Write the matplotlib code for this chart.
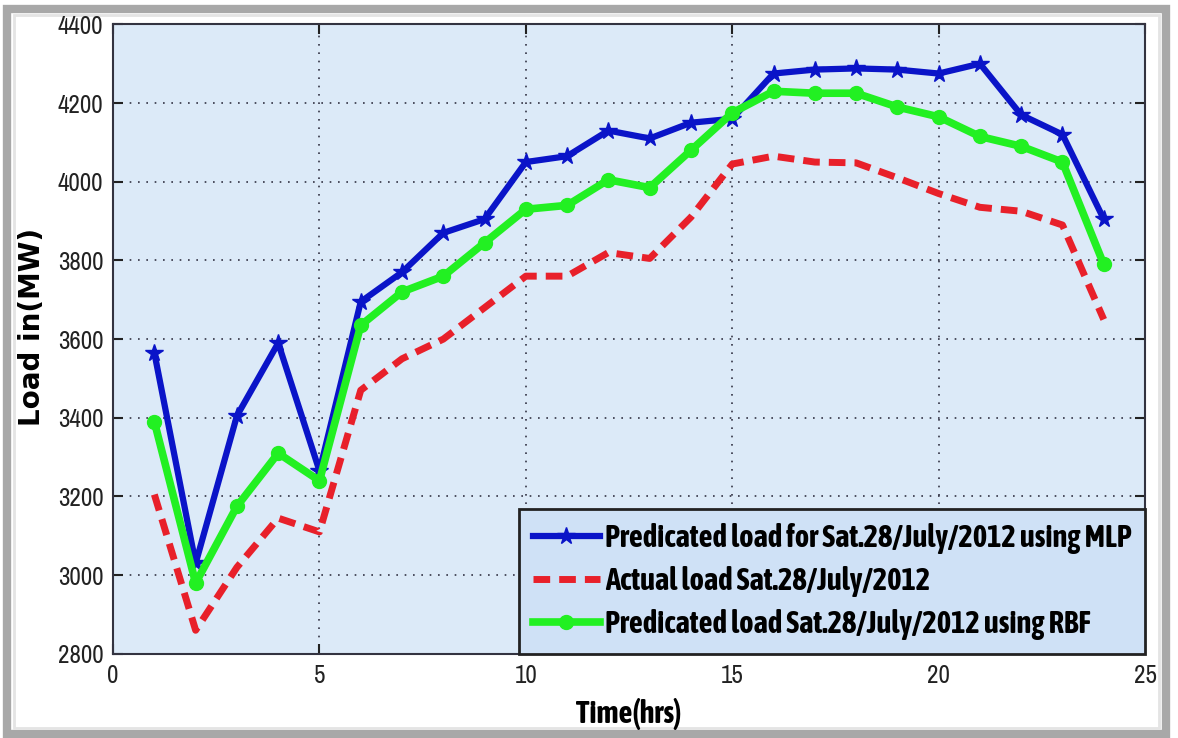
import matplotlib
matplotlib.use("Agg")
import matplotlib.pyplot as plt
from matplotlib.patches import Rectangle
from matplotlib import font_manager

hours = list(range(1, 25))
mlp = [3565, 3030, 3405, 3590, 3265, 3695, 3770, 3870, 3905, 4050, 4065, 4130,
       4110, 4150, 4160, 4275, 4285, 4288, 4285, 4275, 4300, 4170, 4120, 3905]
actual = [3205, 2860, 3020, 3145, 3110, 3470, 3550, 3600, 3680, 3760, 3760, 3820,
          3805, 3910, 4045, 4065, 4050, 4048, 4010, 3970, 3935, 3925, 3890, 3650]
rbf = [3390, 2980, 3175, 3310, 3240, 3635, 3720, 3760, 3845, 3930, 3940, 4005,
       3985, 4080, 4175, 4230, 4225, 4225, 4190, 4165, 4115, 4090, 4050, 3790]

labels = ["Predicated load for Sat.28/July/2012 using MLP",
          "Actual load Sat.28/July/2012",
          "Predicated load Sat.28/July/2012 using RBF"]
xticks = [0, 5, 10, 15, 20, 25]
yticks = [2800, 3000, 3200, 3400, 3600, 3800, 4000, 4200, 4400]


def wnum(w):
    if isinstance(w, (int, float)):
        return w
    return {"bold": 700, "semibold": 600, "demibold": 600, "heavy": 800,
            "black": 900, "extra bold": 800}.get(str(w).lower(), 400)


fonts = font_manager.fontManager.ttflist
cond_all = sorted({f.name for f in fonts if ("Narrow" in f.name or "Condensed" in f.name)})
cond_bold = sorted({f.name for f in fonts if ("Narrow" in f.name or "Condensed" in f.name)
                    and wnum(f.weight) >= 600})
bold_fam = (cond_bold[:1] or cond_all[:1]) + ["Liberation Sans", "DejaVu Sans"]
reg_fam = cond_all[:1] + ["Liberation Sans", "DejaVu Sans"]
has_narrow = bool(cond_all)

fig = plt.figure(figsize=(11.78, 7.38), dpi=100)
fig.patch.set_facecolor("white")
# frame with shadow
fig.add_artist(Rectangle((0.006, 0.006), 0.984, 0.982, transform=fig.transFigure,
                         facecolor="none", edgecolor="#a8a8a8", linewidth=6, zorder=0))
fig.add_artist(Rectangle((0.012, 0.014), 0.972, 0.966, transform=fig.transFigure,
                         facecolor="none", edgecolor="#e4e4e4", linewidth=2, zorder=0))

ax = fig.add_axes([0.096, 0.114, 0.876, 0.853])
ax.set_facecolor("#dceaf8")

ax.plot(hours, mlp, color="#0a14c8", linewidth=4.5, marker="*", markersize=13,
        label=labels[0], zorder=3)
ax.plot(hours, actual, color="#e8202a", linewidth=5, linestyle=(0, (2.4, 1.3)),
        label=labels[1], zorder=2)
ax.plot(hours, rbf, color="#22f022", linewidth=5.5, marker="o", markersize=10,
        label=labels[2], zorder=3)

ax.set_xlim(0, 25)
ax.set_ylim(2800, 4400)
ax.set_xticks(xticks)
ax.set_yticks(yticks)
ax.grid(True, linestyle=(0, (1, 4)), color="#333344", linewidth=1.2)
tsize = 18 if has_narrow else 16
ax.tick_params(direction="in", length=7, width=1.5, top=True, right=True,
               labelsize=tsize, colors="#222222", pad=7)
for lab in ax.get_xticklabels() + ax.get_yticklabels():
    lab.set_family(reg_fam)
for s in ax.spines.values():
    s.set_color("#333340")
    s.set_linewidth(1.5)

ax.set_xlabel("Time(hrs)", fontsize=22 if has_narrow else 17, fontweight="bold",
              family=bold_fam, labelpad=8)
ax.set_ylabel("Load in(MW)", fontsize=20, fontweight="bold",
              family=["DejaVu Sans"])
ax.yaxis.set_label_coords(-0.065, 0.52)

lsize = 22 if has_narrow else 16
leg = ax.legend(loc="lower right", prop={"family": bold_fam, "weight": "bold", "size": lsize},
                frameon=True, fancybox=False, borderaxespad=0.0, handlelength=2.2,
                handletextpad=0.15, labelspacing=0.4 if has_narrow else 0.9,
                borderpad=0.45)
leg.get_frame().set_facecolor("#cfe1f6")
leg.get_frame().set_edgecolor("#222222")
leg.get_frame().set_linewidth(2)
leg.get_frame().set_alpha(1)

fig.savefig("out.png", dpi=100)
